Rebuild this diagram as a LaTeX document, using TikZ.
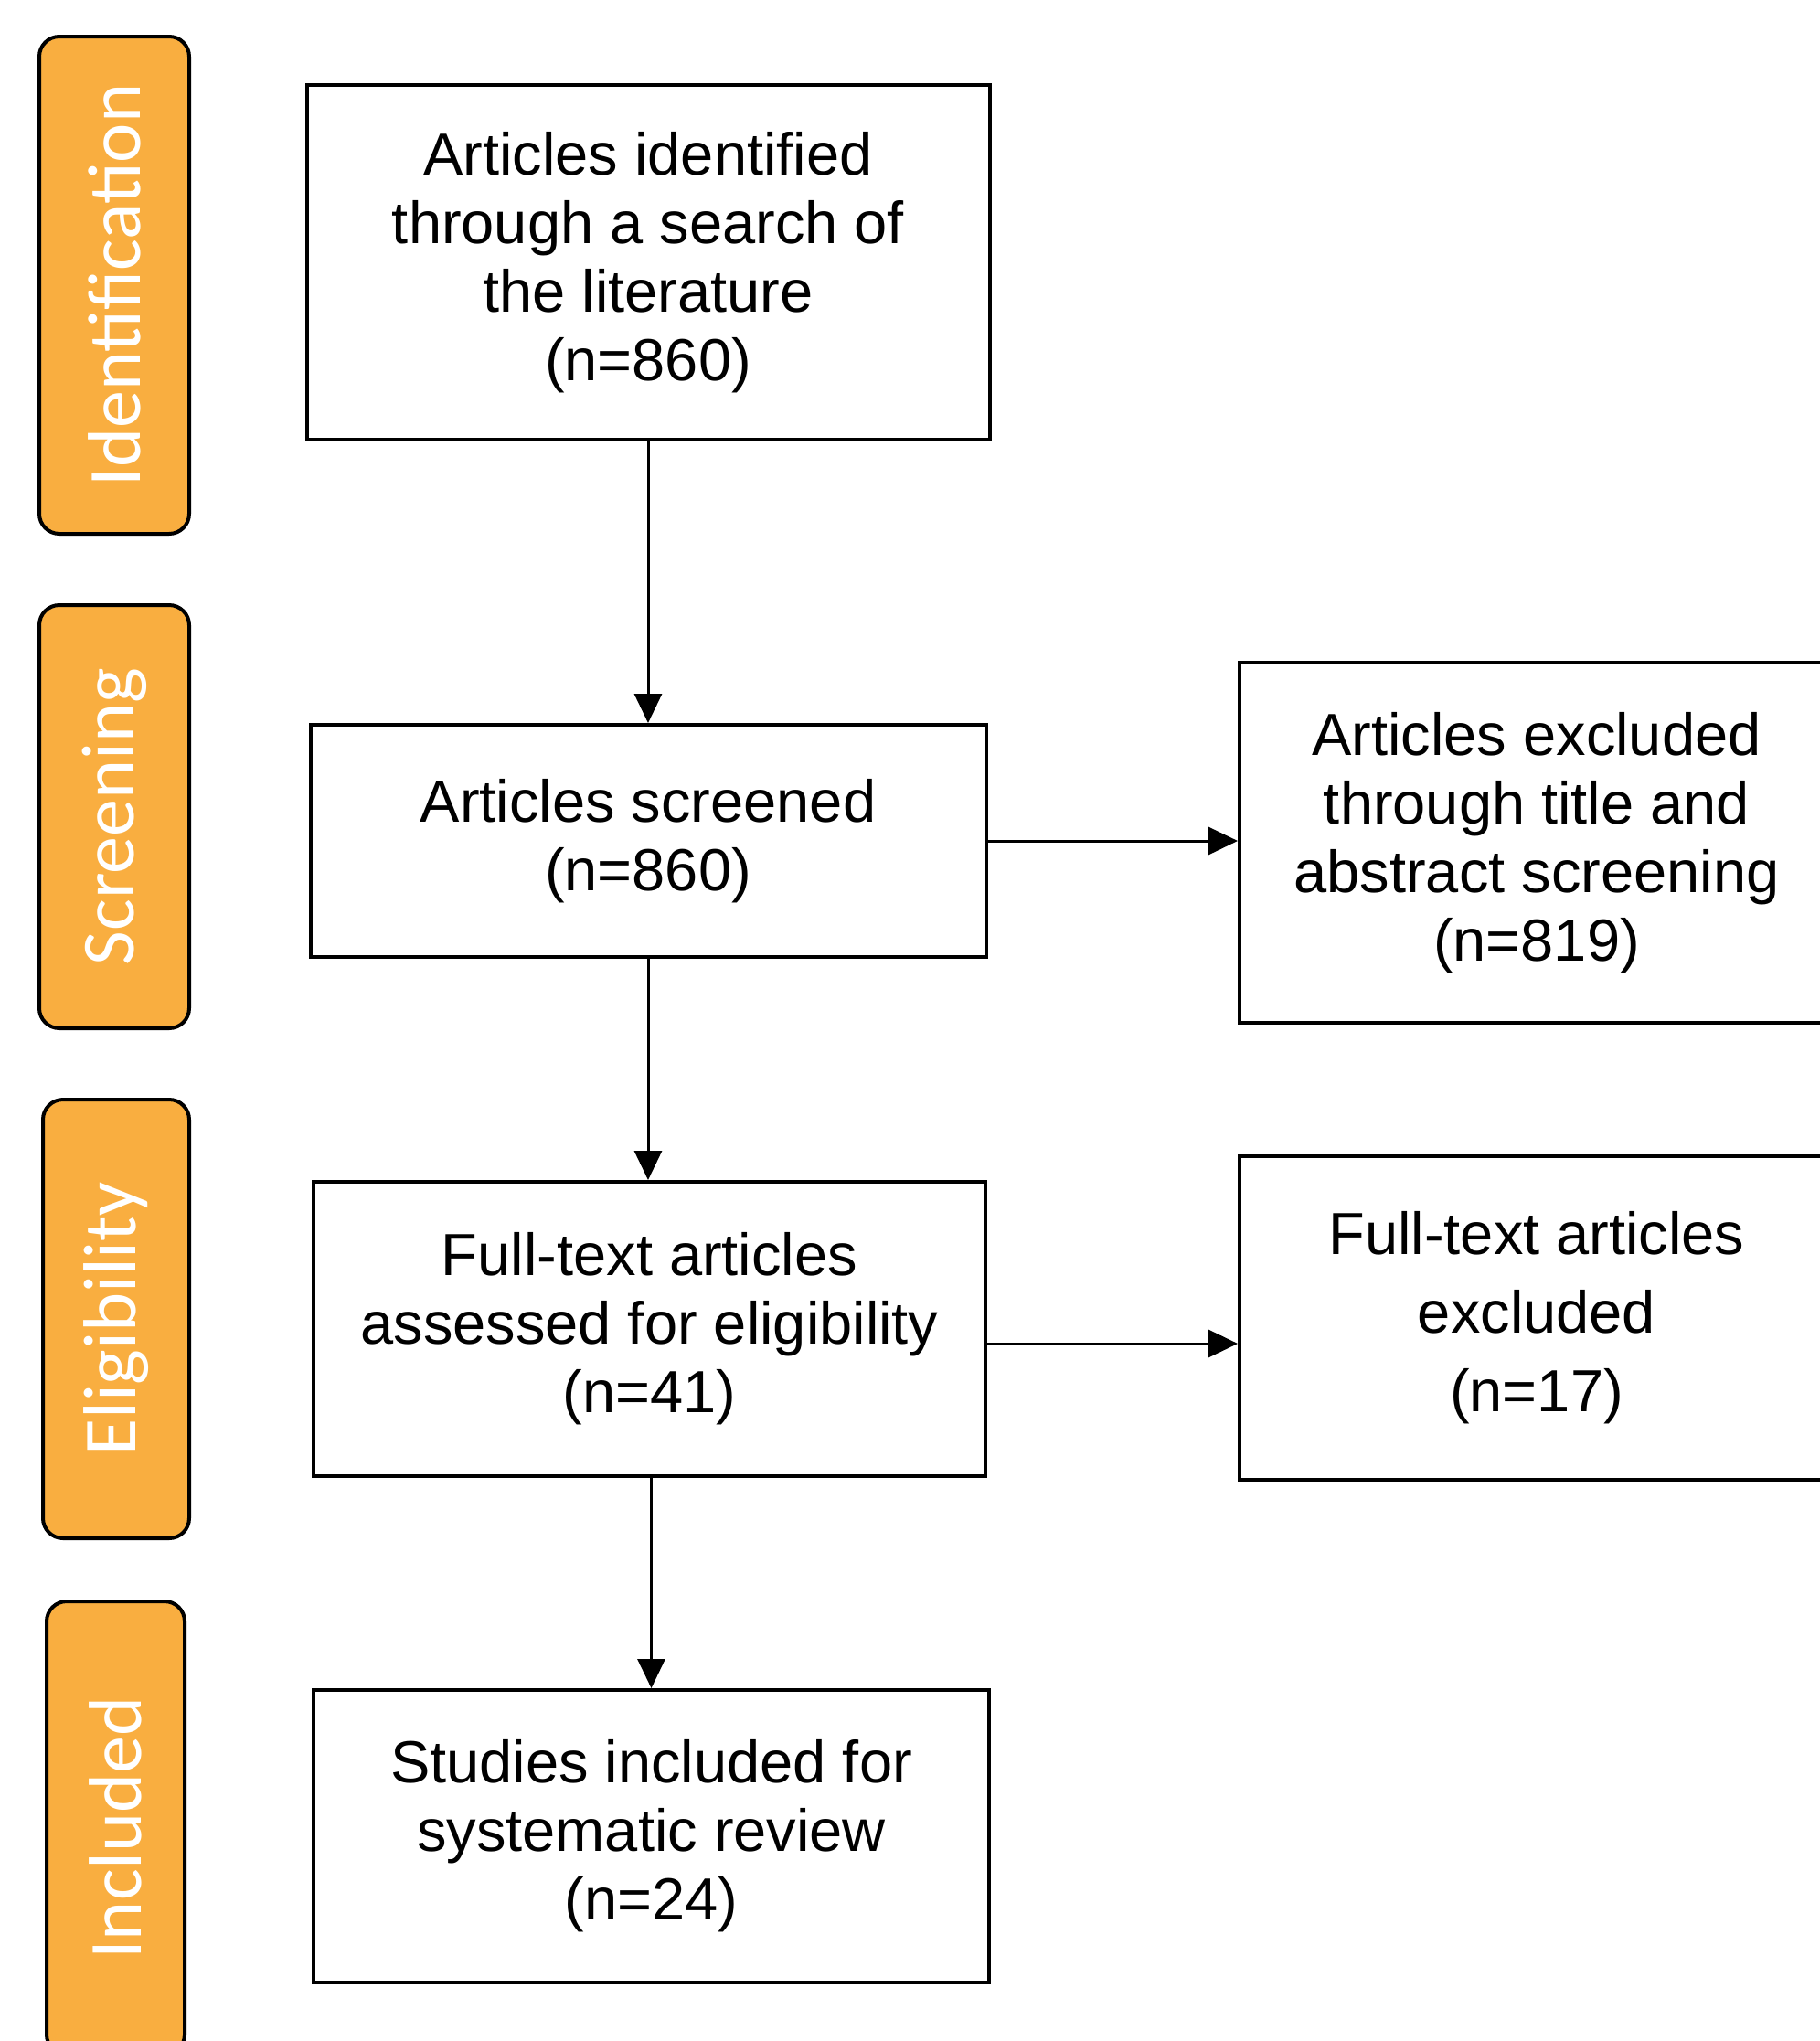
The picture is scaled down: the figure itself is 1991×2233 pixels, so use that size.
\documentclass[tikz,border=0pt]{standalone}
\usepackage{fontspec}
\setmainfont{Liberation Sans}
\newfontfamily\sidefont{Carlito}
\usetikzlibrary{arrows.meta}
\definecolor{phaseorange}{RGB}{249,174,64}
\begin{document}
\begin{tikzpicture}[x=1pt,y=-1pt,
  flowbox/.style={draw=black, line width=4pt, fill=white, align=center,
    font=\fontsize{65}{75}\selectfont, inner sep=0pt},
  sidebox/.style={draw=black, line width=4pt, fill=phaseorange, rounded corners=22pt,
    rotate=90, text=white, font=\sidefont\fontsize{82}{90}\selectfont, inner sep=0pt},
  arr/.style={line width=3pt, -{Triangle[length=32pt,width=30pt]}}
]
\clip (0,0) rectangle (1991,2233);
\fill[white] (0,0) rectangle (1991,2233);

% phase labels
\node[sidebox, minimum width=544pt, minimum height=164pt] (sid) at (125,312) {Identification};
\node[sidebox, minimum width=463pt, minimum height=164pt] (sscr) at (125,893.5) {Screening};
\node[sidebox, minimum width=480pt, minimum height=160pt] (selig) at (127,1443) {Eligibility};
\node[sidebox, minimum width=496pt, minimum height=151pt] (sinc) at (126.5,2000) {Included};

% main boxes
\node[flowbox, minimum width=747pt, minimum height=388pt] (b1) at (709,287)
  {Articles identified\\through a search of\\the literature\\(n=860)};
\node[flowbox, minimum width=739pt, minimum height=254pt] (b2) at (709,920)
  {Articles screened\\(n=860)};
\node[flowbox, minimum width=735pt, minimum height=322pt] (b3) at (710.5,1454)
  {Full-text articles\\assessed for eligibility\\(n=41)};
\node[flowbox, minimum width=739pt, minimum height=320pt] (b4) at (712.5,2009)
  {Studies included for\\systematic review\\(n=24)};

% exclusion boxes
\node[flowbox, minimum width=650pt, minimum height=394pt] (r1) at (1681,922)
  {Articles excluded\\through title and\\abstract screening\\(n=819)};
\node[flowbox, minimum width=650pt, minimum height=354pt, font=\fontsize{65}{86}\selectfont] (r2) at (1681,1442)
  {Full-text articles\\excluded\\(n=17)};

% connectors
\draw[arr] (b1.south) -- (b2.north);
\draw[arr] (b2.south) -- (b2.south |- b3.north);
\draw[arr] (b4.north |- b3.south) -- (b4.north);
\draw[arr] (b2.east) -- (b2.east -| r1.west);
\draw[arr] ([yshift=-16pt]b3.east) -- ([yshift=-16pt]b3.east -| r2.west);
\end{tikzpicture}
\end{document}
